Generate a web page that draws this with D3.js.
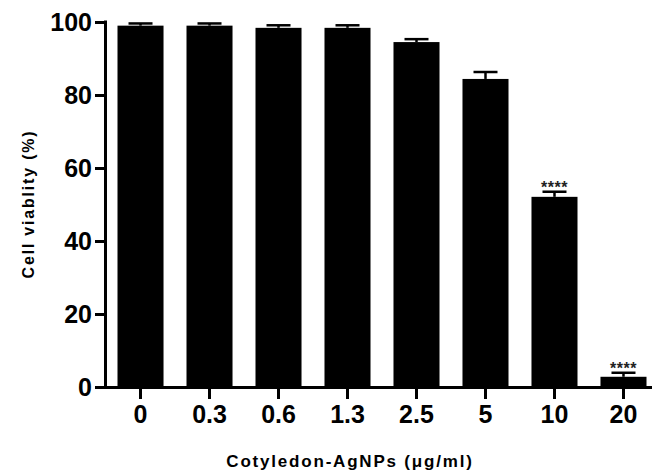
<!DOCTYPE html>
<html>
<head>
<meta charset="utf-8">
<script src="https://cdn.jsdelivr.net/npm/d3@7"></script>
<style>
  body { margin: 0; background: #fff; }
  svg { font-family: "Liberation Sans", Arial, sans-serif; }
</style>
</head>
<body>
<div id="chart"></div>
<script>
// values
var doses = ["0", "0.3", "0.6", "1.3", "2.5", "5", "10", "20"];
var viability = [99.0, 99.0, 98.4, 98.4, 94.5, 84.4, 52.1, 2.8];
var errors = [0.6, 0.6, 0.7, 0.7, 0.8, 1.9, 1.4, 1.1];
var stars = ["", "", "", "", "", "", "****", "****"];
var yTicks = [0, 20, 40, 60, 80, 100];

var w = 652, h = 472;

var svg = d3.select("#chart")
    .append("svg")
    .attr("width", w)
    .attr("height", h);

var xScale = d3.scaleBand()
    .domain(doses)
    .range([106, 658])
    .paddingInner(0.333)
    .paddingOuter(0.1667);

var yScale = d3.scaleLinear()
    .domain([0, 100])
    .range([387, 22]);

var data = doses.map(function (d, i) {
    return {dose: d, value: viability[i], err: errors[i], sig: stars[i]};
});

/* bars */
svg.append("g")
    .selectAll("rect")
    .data(data)
    .enter().append("rect")
    .attr("x", function (d) { return xScale(d.dose); })
    .attr("y", function (d) { return yScale(d.value); })
    .attr("width", xScale.bandwidth())
    .attr("height", function (d) { return yScale(0) - yScale(d.value); })
    .attr("fill", "black");

/* error bars (upper only) */
var capW = 24;
var eb = svg.append("g").attr("stroke", "black").attr("stroke-width", 2.5);
eb.selectAll(".stem")
    .data(data)
    .enter().append("line")
    .attr("x1", function (d) { return xScale(d.dose) + xScale.bandwidth() / 2; })
    .attr("x2", function (d) { return xScale(d.dose) + xScale.bandwidth() / 2; })
    .attr("y1", function (d) { return yScale(d.value); })
    .attr("y2", function (d) { return yScale(d.value + d.err); });
eb.selectAll(".cap")
    .data(data)
    .enter().append("line")
    .attr("x1", function (d) { return xScale(d.dose) + xScale.bandwidth() / 2 - capW / 2; })
    .attr("x2", function (d) { return xScale(d.dose) + xScale.bandwidth() / 2 + capW / 2; })
    .attr("y1", function (d) { return yScale(d.value + d.err); })
    .attr("y2", function (d) { return yScale(d.value + d.err); });

/* significance stars */
svg.append("g")
    .selectAll("text")
    .data(data.filter(function (d) { return d.sig; }))
    .enter().append("text")
    .attr("x", function (d) { return xScale(d.dose) + xScale.bandwidth() / 2; })
    .attr("y", function (d) { return yScale(d.value + d.err) + 1; })
    .attr("text-anchor", "middle")
    .style("font-size", "16px")
    .style("font-weight", "bold")
    .style("letter-spacing", "0.5px")
    .style("fill", "#222")
    .text(function (d) { return d.sig; });

/* axes */
var yAxis = svg.append("g")
    .attr("transform", "translate(106,0)")
    .call(d3.axisLeft(yScale).tickValues(yTicks).tickSize(11).tickSizeOuter(0).tickPadding(3));

var xAxis = svg.append("g")
    .attr("transform", "translate(0,387)")
    .call(d3.axisBottom(xScale).tickSize(12).tickSizeOuter(0).tickPadding(6));

[xAxis, yAxis].forEach(function (ax) {
    ax.selectAll("path, line").attr("stroke", "black").attr("stroke-width", 3);
    ax.selectAll("text")
        .attr("fill", "black")
        .style("font-size", "25px")
        .style("font-weight", "bold")
        .style("font-family", "'Liberation Sans', Arial, sans-serif");
});
xAxis.select(".domain").attr("d", "M104.5,0.5H652");
yAxis.select(".domain").attr("d", "M-0.5,387.5V20.5");

/* titles */
svg.append("text")
    .attr("x", 350)
    .attr("y", 467)
    .attr("text-anchor", "middle")
    .style("font-size", "17px")
    .style("font-weight", "bold")
    .style("letter-spacing", "1.8px")
    .text("Cotyledon-AgNPs (μg/ml)");

svg.append("text")
    .attr("transform", "translate(34,204) rotate(-90)")
    .attr("text-anchor", "middle")
    .style("font-size", "16px")
    .style("font-weight", "bold")
    .style("letter-spacing", "1.8px")
    .text("Cell viablity (%)");
</script>
</body>
</html>
